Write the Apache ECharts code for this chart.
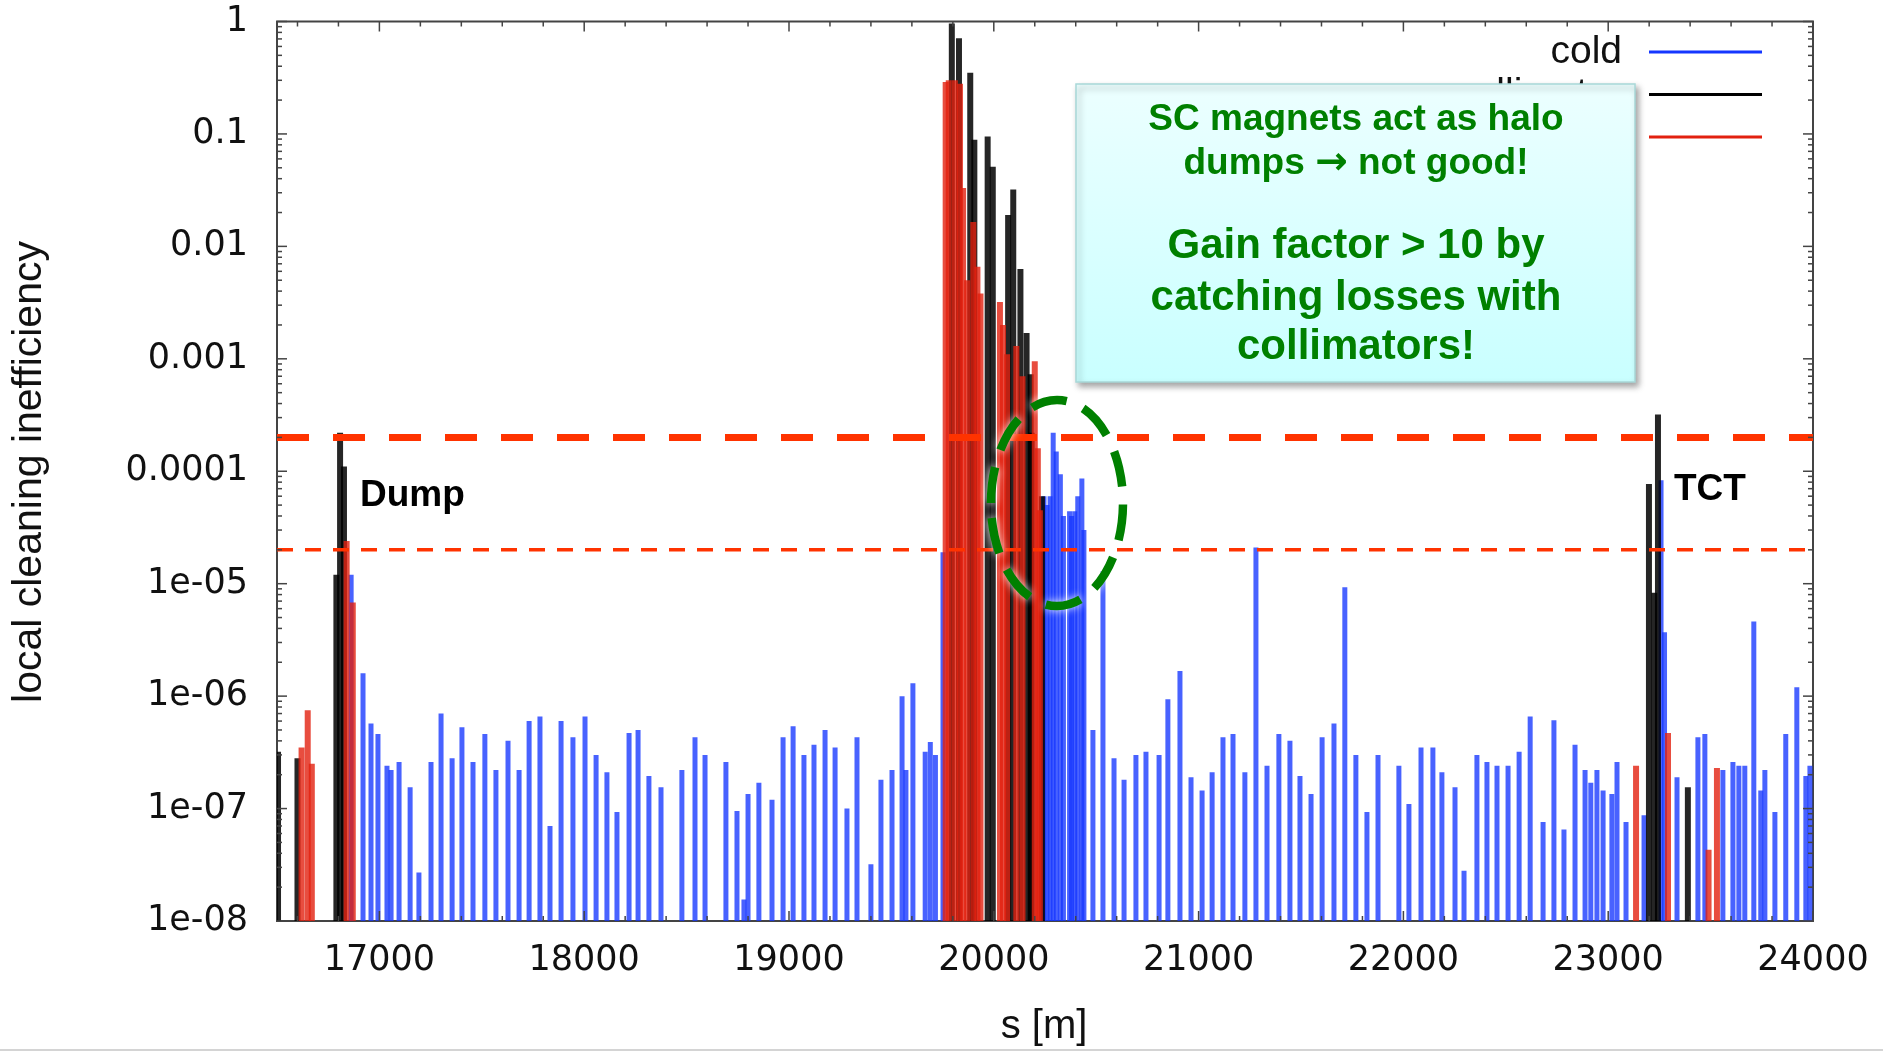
<!DOCTYPE html>
<html><head><meta charset="utf-8">
<script src="https://cdn.jsdelivr.net/npm/echarts@6/dist/echarts.min.js"></script>
<style>html,body{margin:0;padding:0;background:#fff}#c{width:1883px;height:1052px}</style>
</head><body><div id="c"></div>
<script>
// ---- data: [s (m), local cleaning inefficiency] ----
const cold = [
 [16862,1.2e-5],[16920,1.6e-6],[16959,5.7e-7],[16993,4.6e-7],[17037,2.4e-7],[17057,2.2e-7],[17096,2.6e-7],
 [17150,1.55e-7],[17193,2.7e-8],[17252,2.6e-7],[17301,7e-7],[17355,2.8e-7],[17403,5.3e-7],[17457,2.6e-7],
 [17515,4.6e-7],[17569,2.2e-7],[17628,4e-7],[17682,2.2e-7],[17731,6e-7],[17784,6.6e-7],[17833,7e-8],
 [17887,6e-7],[17945,4.3e-7],[18004,6.6e-7],[18058,3e-7],[18111,2.1e-7],[18160,9.3e-8],[18219,4.7e-7],
 [18263,5e-7],[18316,1.95e-7],[18375,1.55e-7],[18477,2.2e-7],[18541,4.3e-7],[18590,3e-7],[18692,2.6e-7],
 [18746,9.5e-8],[18780,1.55e-8],[18800,1.35e-7],[18853,1.7e-7],[18917,1.2e-7],[18971,4.3e-7],[19020,5.4e-7],
 [19073,3e-7],[19122,3.7e-7],[19176,5e-7],[19225,3.5e-7],[19283,1e-7],[19332,4.3e-7],[19400,3.2e-8],
 [19449,1.8e-7],[19503,2.2e-7],[19552,1e-6],[19571,2.2e-7],[19605,1.3e-6],[19665,3.2e-7],[19690,3.9e-7],
 [19715,3e-7],[19752,1.9e-5],
 [20245,6e-5],[20260,5e-5],[20275,6e-5],[20290,2.2e-4],[20305,1.5e-4],[20325,9.4e-5],[20340,4e-5],
 [20370,4.4e-5],[20380,4e-5],[20395,4.4e-5],[20410,6e-5],[20430,8.6e-5],[20440,3e-5],
 [20484,5e-7],[20533,1.3e-5],[20587,2.8e-7],[20636,1.8e-7],[20694,3e-7],[20743,3.2e-7],
 [20807,3e-7],[20850,9.4e-7],[20909,1.67e-6],[20963,1.9e-7],[21017,1.45e-7],[21066,2.1e-7],[21119,4.3e-7],
 [21168,4.6e-7],[21226,2.1e-7],[21280,2.1e-5],[21334,2.4e-7],[21392,4.6e-7],[21446,4e-7],[21495,1.95e-7],
 [21549,1.35e-7],[21603,4.3e-7],[21661,5.7e-7],[21714,9.3e-6],[21768,3e-7],[21822,9.3e-8],[21876,3e-7],
 [21978,2.4e-7],[22027,1.1e-7],[22086,3.5e-7],[22144,3.5e-7],[22188,2.1e-7],[22252,1.55e-7],[22296,2.8e-8],
 [22359,3e-7],[22408,2.6e-7],[22457,2.4e-7],[22511,2.4e-7],[22565,3.2e-7],[22619,6.6e-7],[22682,7.6e-8],
 [22735,6.1e-7],[22784,6.5e-8],[22838,3.7e-7],[22887,2.2e-7],[22915,1.7e-7],[22945,2.2e-7],[22975,1.45e-7],
 [23018,1.35e-7],[23043,2.6e-7],[23087,7.6e-8],[23175,8.7e-8],[23258,8.3e-5],[23275,3.7e-6],[23336,1.9e-7],
 [23438,4.3e-7],[23472,4.6e-7],[23560,2.2e-7],[23609,2.6e-7],[23638,2.4e-7],[23667,2.4e-7],[23711,4.6e-6],
 [23745,1.45e-7],[23765,2.2e-7],[23814,9.3e-8],[23867,4.6e-7],[23921,1.2e-6],[23965,1.95e-7],[23985,2.4e-7]
];
const collimator = [
 [16505,3.2e-7],[16600,2.8e-7],[16790,1.2e-5],[16808,2.2e-4],[16827,1.1e-4],
 [19795,0.96],[19830,0.71],[19885,0.35],[19905,0.089],[19970,0.095],[19995,0.051],[20070,0.019],
 [20095,0.032],[20130,6.3e-3],[20160,1.7e-3],[20180,7.3e-4],[20185,2.2e-4],[20235,6e-5],
 [23199,7.7e-5],[23225,8.3e-6],[23243,3.2e-4],[23389,1.55e-7]
];
const warm = [
 [16620,3.5e-7],[16650,7.5e-7],[16670,2.5e-7],[16840,2.4e-5],[16870,6.8e-6],
 [19765,0.29],[19780,0.3],[19810,0.3],[19835,0.28],[19850,0.033],[19870,5e-3],[19900,0.0165],[19920,6.6e-3],[19935,3.8e-3],
 [20030,3.2e-3],[20045,2e-3],[20065,1.1e-3],[20110,1.3e-3],[20140,7e-4],[20200,9.5e-4],[20215,1.6e-4],[20225,4.5e-5],
 [23136,2.4e-7],[23292,4.7e-7],[23490,4.3e-8],[23531,2.3e-7]
];
const thresholds = [2e-4, 2e-5];
const seriesNames = ['cold', 'collimator', 'warm'];
const yTickLabels = ['1e-08','1e-07','1e-06','1e-05','0.0001','0.001','0.01','0.1','1'];
const xTickLabels = ['17000','18000','19000','20000','21000','22000','23000','24000'];
const X_MIN = 16500, X_MAX = 24000, Y_MIN = 1e-8, Y_MAX = 1;

// tick marks (gnuplot style, inside on all four sides)
const tickData = [];
for (let k = -8; k <= 0; k++) {
  tickData.push([X_MIN, Math.pow(10, k), 0]);
  if (k < 0) for (let m = 2; m <= 9; m++) tickData.push([X_MIN, m * Math.pow(10, k), 1]);
}
for (let s = 16600; s < X_MAX; s += 200) tickData.push([s, Y_MIN, s % 1000 === 0 ? 2 : 3]);
tickData.push([X_MAX, Y_MIN, 2]);

const chart = echarts.init(document.getElementById('c'), null, {renderer: 'canvas'});

function barRender(opacity, w) {
  return function (params, api) {
    const s = api.value(0), v = api.value(1);
    const top = api.coord([s, v]);
    const base = api.coord([s, Y_MIN]);
    return {type: 'rect', shape: {x: top[0] - w / 2, y: top[1], width: w, height: base[1] - top[1]},
      style: {fill: api.visual('color'), opacity: opacity}};
  };
}

function tickRender(params, api) {
  const cs = params.coordSys;
  const p = api.coord([api.value(0), api.value(1)]);
  const kind = api.value(2);
  const st = {stroke: '#444', lineWidth: 1.5};
  const len = (kind === 0 || kind === 2) ? 10 : 5;
  if (kind < 2) {
    return {type: 'group', children: [
      {type: 'line', shape: {x1: cs.x, y1: p[1], x2: cs.x + len, y2: p[1]}, style: st},
      {type: 'line', shape: {x1: cs.x + cs.width, y1: p[1], x2: cs.x + cs.width - len, y2: p[1]}, style: st}
    ]};
  }
  return {type: 'group', children: [
    {type: 'line', shape: {x1: p[0], y1: cs.y + cs.height, x2: p[0], y2: cs.y + cs.height - len}, style: st},
    {type: 'line', shape: {x1: p[0], y1: cs.y, x2: p[0], y2: cs.y + len}, style: st}
  ]};
}

function threshRender(params, api) {
  const cs = params.coordSys;
  const p = api.coord([X_MIN, api.value(0)]);
  const thick = params.dataIndex === 0;
  return {type: 'line', shape: {x1: cs.x, y1: p[1], x2: cs.x + cs.width, y2: p[1]},
    style: {stroke: '#ff3300', lineWidth: thick ? 7 : 3.5, lineDash: thick ? [32, 24] : [16, 12]}};
}

const boxFill = new echarts.graphic.LinearGradient(0, 0, 0, 1, [
  {offset: 0, color: '#ecffff'}, {offset: 1, color: '#c9ffff'}]);
const green = '#008000';
const FONT = '"Liberation Sans", Arial, sans-serif';
function boxText(t, y, size) {
  return {type: 'text', z: 102, style: {text: t, x: 1356, y: y, textAlign: 'center', textVerticalAlign: 'middle',
    fontFamily: FONT, fontWeight: 'bold', fontSize: size, fill: green,
    rich: {arr: {fontFamily: '"DejaVu Sans", sans-serif', fontWeight: 'bold', fontSize: size + 2, fill: green}}}};
}

chart.setOption({
  animation: false,
  backgroundColor: '#ffffff',
  grid: {left: 277, right: 70, top: 21.5, bottom: 131, show: true, borderColor: '#444', borderWidth: 2, backgroundColor: 'transparent'},
  xAxis: {type: 'value', min: X_MIN, max: X_MAX, interval: 500,
    axisLine: {show: false}, axisTick: {show: false}, splitLine: {show: false},
    axisLabel: {margin: 22, fontSize: 35, fontFamily: '"DejaVu Sans", sans-serif', color: '#111',
      formatter: v => (v % 1000 === 0) ? xTickLabels[(v - 17000) / 1000] : ''}},
  yAxis: {type: 'log', logBase: 10, min: Y_MIN, max: Y_MAX, splitNumber: 8,
    axisLine: {show: false}, axisTick: {show: false}, splitLine: {show: false}, minorTick: {show: false},
    axisLabel: {margin: 29, fontSize: 35, fontFamily: '"DejaVu Sans", sans-serif', color: '#111',
      formatter: v => yTickLabels[Math.round(Math.log10(v)) + 8]}},
  legend: {orient: 'vertical', right: 121, top: 29, align: 'right', padding: 0,
    itemWidth: 113, itemHeight: 3, itemGap: -3.5, icon: 'rect', selectedMode: false,
    textStyle: {fontFamily: FONT, fontSize: 39, lineHeight: 40, color: '#111', padding: [6, 22, 0, 0]},
    data: seriesNames},
  series: [
    {name: 'cold', type: 'custom', renderItem: barRender(0.78, 5), data: cold, clip: true,
      itemStyle: {color: '#1536ff'}, encode: {x: 0, y: 1}, z: 2},
    {name: 'collimator', type: 'custom', renderItem: barRender(0.85, 6), data: collimator, clip: true,
      itemStyle: {color: '#000000'}, encode: {x: 0, y: 1}, z: 3},
    {name: 'warm', type: 'custom', renderItem: barRender(0.8, 6), data: warm, clip: true,
      itemStyle: {color: '#e2200f'}, encode: {x: 0, y: 1}, z: 4},
    {name: 'thresholds', type: 'custom', renderItem: threshRender, data: thresholds.map(v => [v]),
      encode: {y: 0}, z: 5, silent: true},
    {name: 'ticks', type: 'custom', renderItem: tickRender, data: tickData, encode: {x: 0, y: 1}, z: 6, silent: true}
  ],
  graphic: [
    {type: 'text', z: 60, style: {text: 'Dump', x: 360, y: 496, textVerticalAlign: 'middle',
      fontFamily: FONT, fontWeight: 'bold', fontSize: 37, fill: '#000'}},
    {type: 'text', z: 60, style: {text: 'TCT', x: 1674, y: 490, textVerticalAlign: 'middle',
      fontFamily: FONT, fontWeight: 'bold', fontSize: 37, fill: '#000'}},
    {type: 'ellipse', z: 70, shape: {cx: 1057, cy: 503, rx: 66, ry: 103},
      style: {fill: null, stroke: green, lineWidth: 8.5, lineDash: [36, 18], shadowBlur: 8, shadowColor: 'rgba(255,255,255,0.95)'}},
    {type: 'rect', z: 100, shape: {x: 1076, y: 84, width: 559, height: 298},
      style: {fill: boxFill, stroke: '#a8d8d8', lineWidth: 1.5, shadowBlur: 6, shadowOffsetX: 3, shadowOffsetY: 4, shadowColor: 'rgba(0,0,0,0.35)'}},
    boxText('SC magnets act as halo', 120, 37),
    boxText('dumps {arr|\u2192} not good!', 164, 37),
    boxText('Gain factor > 10 by', 246, 42),
    boxText('catching losses with', 298, 42),
    boxText('collimators!', 347, 42),
    {type: 'text', z: 60, rotation: Math.PI / 2, x: 30, y: 472, style: {text: 'local cleaning inefficiency', x: 0, y: 0,
      textAlign: 'center', textVerticalAlign: 'middle', fontFamily: FONT, fontSize: 41, fill: '#111'}},
    {type: 'text', z: 60, style: {text: 's [m]', x: 1044, y: 1027, textAlign: 'center', textVerticalAlign: 'middle',
      fontFamily: FONT, fontSize: 40, fill: '#111'}},
    {type: 'rect', z: 60, shape: {x: 0, y: 1049, width: 1883, height: 2}, style: {fill: '#d4d4d4'}}
  ]
});
</script></body></html>
